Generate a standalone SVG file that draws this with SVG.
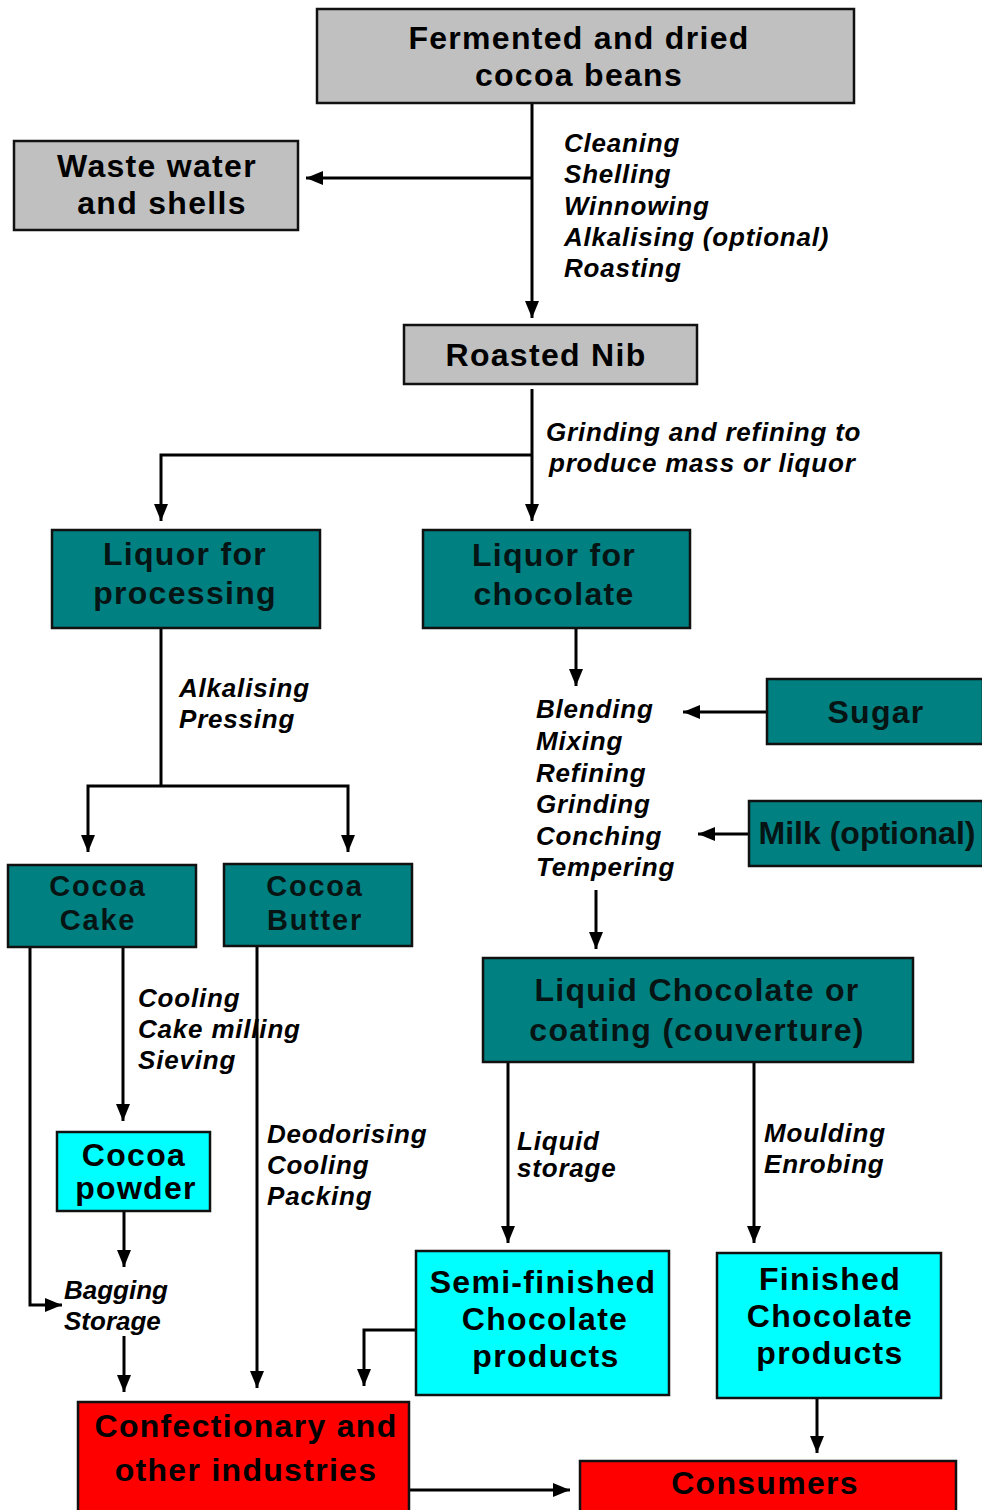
<svg xmlns="http://www.w3.org/2000/svg" width="982" height="1510" viewBox="0 0 982 1510">
<style>
.box{stroke:#111;stroke-width:2.5}
.gray{fill:#c0c0c0}
.teal{fill:#008080}
.cyan{fill:#00ffff}
.red{fill:#ff0000}
.t{font-family:"Liberation Sans",Arial,sans-serif;font-weight:bold;font-size:32px;text-anchor:middle;fill:#000;letter-spacing:1.3px}
.tt{fill:#061414}
.sm{font-size:29px;letter-spacing:1.8px}
.l{font-family:"Liberation Sans",Arial,sans-serif;font-weight:bold;font-style:italic;font-size:26px;fill:#000;letter-spacing:0.8px}
.c{fill:none;stroke:#000;stroke-width:3}
</style>
<defs>
<marker id="ah" markerUnits="userSpaceOnUse" markerWidth="18" markerHeight="18" viewBox="0 0 18 18" refX="17" refY="9" orient="auto">
<path d="M0,2 L17,9 L0,16 z" fill="#000"/>
</marker>
</defs>
<rect width="982" height="1510" fill="#fff"/>

<g id="connectors">
<path class="c" d="M532,103 V318" marker-end="url(#ah)"/>
<path class="c" d="M532,178 H306" marker-end="url(#ah)"/>
<path class="c" d="M532,389 V521" marker-end="url(#ah)"/>
<path class="c" d="M532,455 H161 V521" marker-end="url(#ah)"/>
<path class="c" d="M576,628 V686" marker-end="url(#ah)"/>
<path class="c" d="M161,628 V786"/>
<path class="c" d="M161,786 H88 V852" marker-end="url(#ah)"/>
<path class="c" d="M161,786 H348 V852" marker-end="url(#ah)"/>
<path class="c" d="M767,712 H683" marker-end="url(#ah)"/>
<path class="c" d="M749,834 H698" marker-end="url(#ah)"/>
<path class="c" d="M596,890 V949" marker-end="url(#ah)"/>
<path class="c" d="M508,1062 V1243" marker-end="url(#ah)"/>
<path class="c" d="M754,1062 V1243" marker-end="url(#ah)"/>
<path class="c" d="M30,947 V1305 H62" marker-end="url(#ah)"/>
<path class="c" d="M123,947 V1121" marker-end="url(#ah)"/>
<path class="c" d="M124,1211 V1267" marker-end="url(#ah)"/>
<path class="c" d="M124,1336 V1392" marker-end="url(#ah)"/>
<path class="c" d="M257,946 V1388" marker-end="url(#ah)"/>
<path class="c" d="M416,1330 H364 V1386" marker-end="url(#ah)"/>
<path class="c" d="M409,1490 H570" marker-end="url(#ah)"/>
<path class="c" d="M817,1398 V1453" marker-end="url(#ah)"/>
</g>

<g id="labels">
<text class="l"><tspan x="564" y="152">Cleaning</tspan><tspan x="564" y="183">Shelling</tspan><tspan x="564" y="215">Winnowing</tspan><tspan x="564" y="246">Alkalising (optional)</tspan><tspan x="564" y="277">Roasting</tspan></text>
<text class="l"><tspan x="546" y="441">Grinding and refining to</tspan><tspan x="549" y="472">produce mass or liquor</tspan></text>
<text class="l"><tspan x="179" y="697">Alkalising</tspan><tspan x="179" y="728">Pressing</tspan></text>
<text class="l"><tspan x="536" y="718">Blending</tspan><tspan x="536" y="750">Mixing</tspan><tspan x="536" y="782">Refining</tspan><tspan x="536" y="813">Grinding</tspan><tspan x="536" y="845">Conching</tspan><tspan x="536" y="876">Tempering</tspan></text>
<text class="l"><tspan x="138" y="1007">Cooling</tspan><tspan x="138" y="1038">Cake milling</tspan><tspan x="138" y="1069">Sieving</tspan></text>
<text class="l"><tspan x="267" y="1143">Deodorising</tspan><tspan x="267" y="1174">Cooling</tspan><tspan x="267" y="1205">Packing</tspan></text>
<text class="l"><tspan x="517" y="1150">Liquid</tspan><tspan x="517" y="1177">storage</tspan></text>
<text class="l"><tspan x="764" y="1142">Moulding</tspan><tspan x="764" y="1173">Enrobing</tspan></text>
<text class="l" style="letter-spacing:0"><tspan x="64" y="1299">Bagging</tspan><tspan x="64" y="1330">Storage</tspan></text>
</g>

<g id="n-fermented">
<rect class="box gray" x="317" y="9" width="537" height="94"/>
<text class="t"><tspan x="579" y="49">Fermented and dried</tspan><tspan x="579" y="86">cocoa beans</tspan></text>
</g>
<g id="n-waste">
<rect class="box gray" x="14" y="141" width="284" height="89"/>
<text class="t"><tspan x="157" y="177">Waste water</tspan><tspan x="162" y="214">and shells</tspan></text>
</g>
<g id="n-nib">
<rect class="box gray" x="404" y="325" width="293" height="59"/>
<text class="t" x="546" y="366">Roasted Nib</text>
</g>
<g id="n-liq-proc">
<rect class="box teal" x="52" y="530" width="268" height="98"/>
<text class="t tt"><tspan x="185" y="565">Liquor for</tspan><tspan x="185" y="604">processing</tspan></text>
</g>
<g id="n-liq-choc">
<rect class="box teal" x="423" y="530" width="267" height="98"/>
<text class="t tt"><tspan x="554" y="566">Liquor for</tspan><tspan x="554" y="605">chocolate</tspan></text>
</g>
<g id="n-sugar">
<rect class="box teal" x="767" y="679" width="216" height="65"/>
<text class="t tt" x="876" y="723">Sugar</text>
</g>
<g id="n-milk">
<rect class="box teal" x="749" y="801" width="234" height="65"/>
<text class="t tt" x="867" y="844" style="letter-spacing:0">Milk (optional)</text>
</g>
<g id="n-cake">
<rect class="box teal" x="8" y="865" width="188" height="82"/>
<text class="t tt sm"><tspan x="98" y="896">Cocoa</tspan><tspan x="98" y="930">Cake</tspan></text>
</g>
<g id="n-butter">
<rect class="box teal" x="224" y="864" width="188" height="82"/>
<text class="t tt sm"><tspan x="315" y="896">Cocoa</tspan><tspan x="315" y="930">Butter</tspan></text>
</g>
<g id="n-liquid">
<rect class="box teal" x="483" y="958" width="430" height="104"/>
<text class="t tt"><tspan x="697" y="1001">Liquid Chocolate or</tspan><tspan x="697" y="1041">coating (couverture)</tspan></text>
</g>
<g id="n-powder">
<rect class="box cyan" x="57" y="1132" width="153" height="79"/>
<text class="t"><tspan x="134" y="1166">Cocoa</tspan><tspan x="136" y="1199">powder</tspan></text>
</g>
<g id="n-semi">
<rect class="box cyan" x="416" y="1251" width="253" height="144"/>
<text class="t"><tspan x="543" y="1293">Semi-finished</tspan><tspan x="545" y="1330">Chocolate</tspan><tspan x="546" y="1367">products</tspan></text>
</g>
<g id="n-finished">
<rect class="box cyan" x="717" y="1253" width="224" height="145"/>
<text class="t"><tspan x="830" y="1290">Finished</tspan><tspan x="830" y="1327">Chocolate</tspan><tspan x="830" y="1364">products</tspan></text>
</g>
<g id="n-confec">
<rect class="box red" x="78" y="1402" width="331" height="112"/>
<text class="t"><tspan x="246" y="1437">Confectionary and</tspan><tspan x="246" y="1481">other industries</tspan></text>
</g>
<g id="n-consumers">
<rect class="box red" x="580" y="1461" width="376" height="53"/>
<text class="t" x="765" y="1494">Consumers</text>
</g>
</svg>
